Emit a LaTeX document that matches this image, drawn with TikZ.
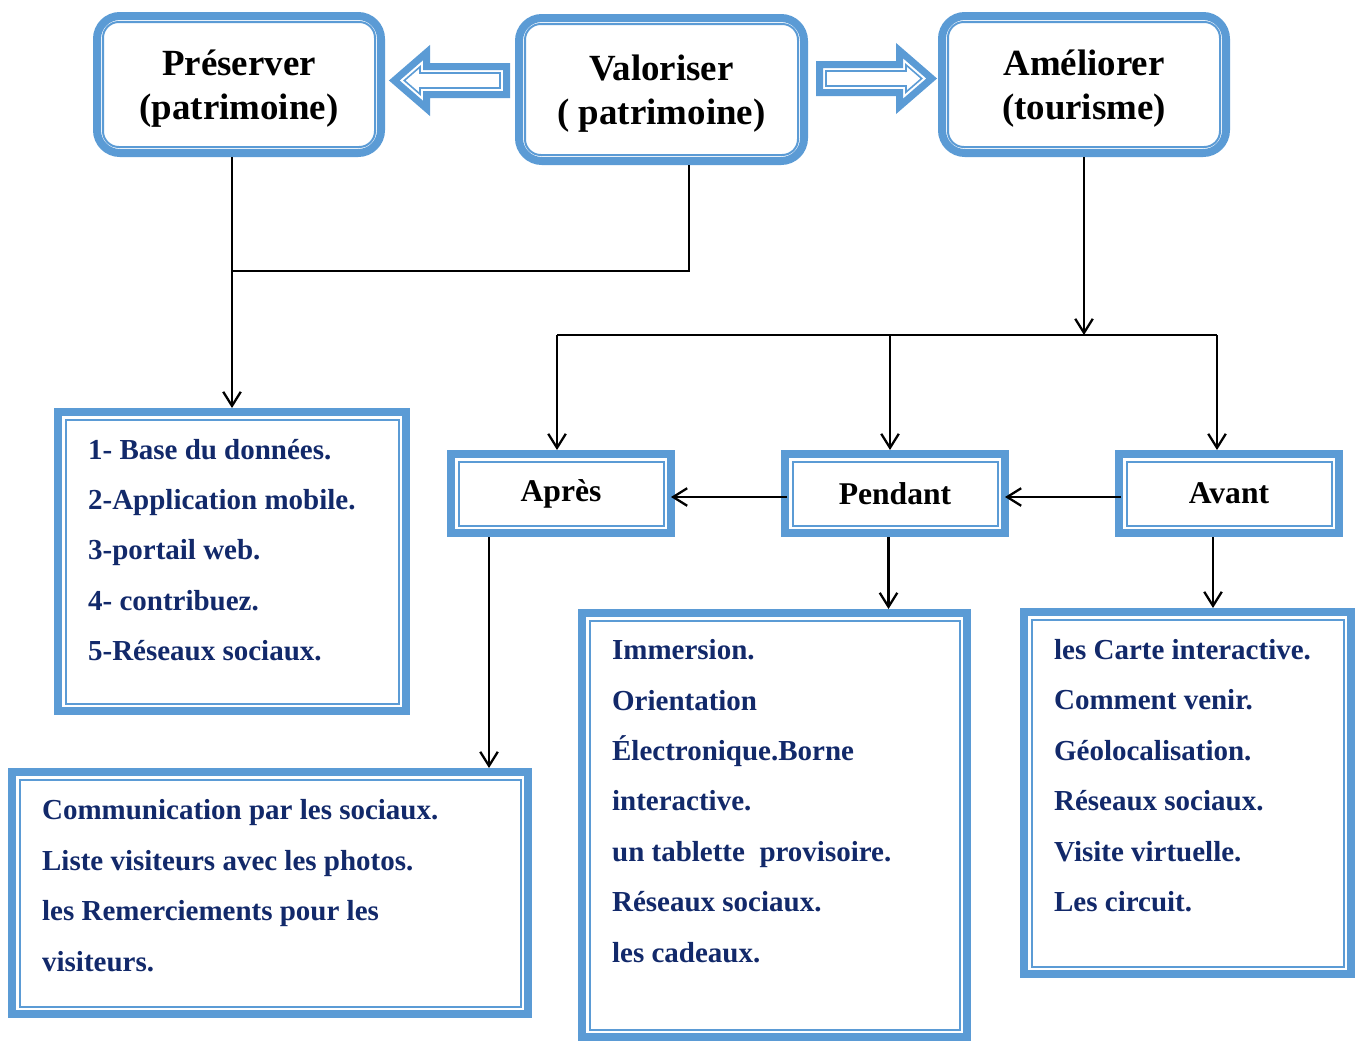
\documentclass[tikz,border=0pt]{standalone}
\usepackage{fontspec}
\setmainfont{Liberation Serif}
\usetikzlibrary{arrows.meta, positioning}
\newlength\pxu
\setlength\pxu{0.02cm}
\definecolor{boxblue}{HTML}{5B9BD5}
\definecolor{itemnavy}{HTML}{12296A}

\begin{document}
\begin{tikzpicture}[%
    x=\pxu, y=-\pxu,
    >={Straight Barb[length=8pt,width=10pt]},
    line width=1.3pt,
    topbox/.style={draw=boxblue, line width=8\pxu, rounded corners=13pt,
      align=center, text depth=0pt, font=\fontsize{21}{25}\selectfont\bfseries},
    midbox/.style={draw=boxblue, line width=8\pxu,
      minimum width=220\pxu, minimum height=79\pxu,
      font=\fontsize{18}{20}\selectfont\bfseries},
    listbox/.style={draw=boxblue, line width=8\pxu},
    items/.style={anchor=base west, inner sep=0pt, align=left, text=itemnavy,
      font=\fontsize{16.5}{28.7}\selectfont\bfseries},
    innerline/.style={draw=boxblue, line width=2\pxu},
    bigarrow/.style={draw=boxblue, line width=7\pxu, line join=miter},
    bigarrowin/.style={draw=boxblue, line width=1.6\pxu}
  ]

  \useasboundingbox (0,0) rectangle (1357,1041);

  \node[topbox, minimum width=284\pxu, minimum height=137\pxu] (pres) at (239,84.5) {Préserver\\(patrimoine)};
  \node[topbox, minimum width=285\pxu, minimum height=143\pxu] (valo) at (661.5,89.5) {Valoriser\\( patrimoine)};
  \node[topbox, minimum width=284\pxu, minimum height=137\pxu] (amel) at (1084,84.5) {Améliorer\\(tourisme)};

  \node[midbox] (apres) at (561,493.5) {Après};
  \node[midbox] (pend) [right=106\pxu of apres] {Pendant};
  \node[midbox] (avant) [right=106\pxu of pend] {Avant};

  \node[listbox, minimum width=348\pxu, minimum height=299\pxu] (lpres) at (232,561.5) {};
  \node[listbox, minimum width=516\pxu, minimum height=242\pxu] (lapres) at (270,893) {};
  \node[listbox, minimum width=385\pxu, minimum height=424\pxu] (lpend) at (774.5,825) {};
  \node[listbox, minimum width=327\pxu, minimum height=362\pxu] (lavant) at (1187.5,793) {};

  \foreach \n in {pres, valo, amel}
    \draw[innerline, rounded corners=9pt] ([shift={(10,10)}]\n.north west) rectangle ([shift={(-10,-10)}]\n.south east);
  \foreach \n in {apres, pend, avant, lpres, lapres, lpend, lavant}
    \draw[innerline] ([shift={(11.5,11.5)}]\n.north west) rectangle ([shift={(-11.5,-11.5)}]\n.south east);

  \node[items] (presitems) at (87,660.8) {1- Base du données.\\2-Application mobile.\\3-portail web.\\4- contribuez.\\5-Réseaux sociaux.};
  \node[items] (apresitems) at (41,971.1) {Communication par les sociaux.\\Liste visiteurs avec les photos.\\les Remerciements pour les\\visiteurs.};
  \node[items] (penditems) at (611,962.2) {Immersion.\\Orientation\\Électronique.Borne\\interactive.\\un tablette\ \ provisoire.\\Réseaux sociaux.\\les cadeaux.};
  \node[items] (avantitems) at (1053,911.5) {les Carte interactive.\\Comment venir.\\Géolocalisation.\\Réseaux sociaux.\\Visite virtuelle.\\Les circuit.};

  \coordinate (tipL) at (389,80.5);
  \coordinate (tipR) at (937,78.5);
  \foreach \c/\s in {tipL/1, tipR/-1} {
    \draw[bigarrow] (\c) ++({5.3*\s},0) -- ++({32.2*\s},-27.9) -- ++(0,13.9) -- ++({80*\s},0)
      -- ++(0,28) -- ++({-80*\s},0) -- ++(0,13.9) -- cycle;
    \draw[bigarrowin] (\c) ++({15.3*\s},0) -- ++({15.7*\s},-13.6) -- ++(0,6.1) -- ++({80*\s},0)
      -- ++(0,15) -- ++({-80*\s},0) -- ++(0,6.1) -- cycle;
  }

  \coordinate (joinP) at (lpres.north |- 0,271);
  \coordinate (bus) at (1084,335);
  \coordinate (busL) at (557,335);
  \coordinate (busR) at (1217,335);

  \draw[->] (pres.south -| lpres.north) -- (lpres.north);
  \draw ([shift={(27.5,0)}]valo.south) |- (joinP);
  \draw[->] (amel.south) -- (bus);
  \draw (busL) -- (busR);
  \foreach \x/\n in {557/apres, 890/pend, 1217/avant}
    \draw[->] (\x,335) -- (\n.north -| \x,0);
  \draw[->] ([shift={(6,3.5)}]pend.west) -- ([shift={(-4,3.5)}]apres.east);
  \draw[->] ([shift={(6,3.5)}]avant.west) -- ([shift={(-4,3.5)}]pend.east);
  \foreach \n/\l/\d in {apres/lapres/-72, pend/lpend/-6.5, avant/lavant/-16}
    \draw[->] ([shift={(\d,0)}]\n.south) -- ([shift={(\d,0)}]\n.south |- \l.north);
\end{tikzpicture}
\end{document}
